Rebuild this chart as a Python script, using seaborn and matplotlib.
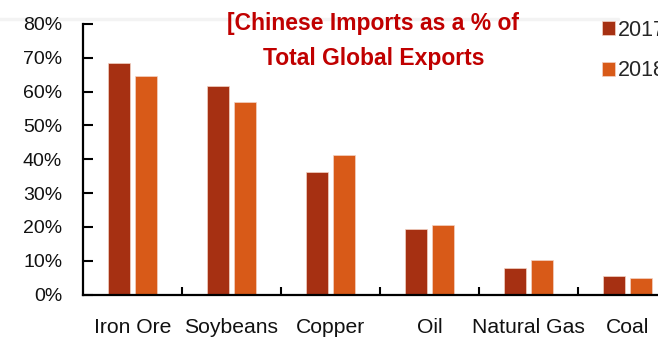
import matplotlib
matplotlib.use("Agg")
import matplotlib.pyplot as plt
from matplotlib.lines import Line2D
from matplotlib.ticker import FixedLocator, PercentFormatter
import pandas as pd
import seaborn as sns

# Chinese imports as a share of total global exports, by commodity (%)
categories = ["Iron Ore", "Soybeans", "Copper", "Oil", "Natural Gas", "Coal"]
share_2017 = [68.4, 61.6, 36.3, 19.4, 7.9, 5.4]
share_2018 = [64.5, 56.8, 41.4, 20.6, 10.3, 4.9]
years = ["2017", "2018"]
y_ticks = [0, 10, 20, 30, 40, 50, 60, 70, 80]

df = pd.DataFrame({
    "commodity": categories * 2,
    "year": [years[0]] * len(categories) + [years[1]] * len(categories),
    "share": share_2017 + share_2018,
})

sns.set_theme(style="white")
plt.rcParams["font.family"] = ["Liberation Sans", "DejaVu Sans"]

W, H = 658, 341
fig = plt.figure(figsize=(W / 100, H / 100), dpi=100)
fig.patch.set_facecolor("white")

# faint rule across the top of the slide
fig.add_artist(Line2D([0, 618 / W], [1 - 19 / H] * 2, color="#f3f3f3", lw=2.5,
                      zorder=0))

ax = fig.add_axes([83 / W, 46.5 / H, 594 / W, 270.5 / H])
ax.patch.set_alpha(0)
palette = {"2017": "#A63012", "2018": "#D85A18"}
sns.barplot(data=df, x="commodity", y="share", hue="year", palette=palette,
            saturation=1, width=0.56, gap=0.2, edgecolor="#f3d2c4",
            linewidth=0.5, ax=ax, legend=True)

ax.set_xlim(-0.5, len(categories) - 0.5)
ax.set_ylim(0, 80)
ax.set_xlabel("")
ax.set_ylabel("")
ax.yaxis.set_major_locator(FixedLocator(y_ticks))
ax.yaxis.set_major_formatter(PercentFormatter(decimals=0))

sns.despine(ax=ax)
for side in ("left", "bottom"):
    ax.spines[side].set_color("black")
    ax.spines[side].set_linewidth(1.6)

ax.tick_params(axis="y", which="major", left=True, direction="in", length=7,
               width=1.5, color="black", labelsize=14, pad=15,
               labelcolor="#111111")
ax.xaxis.set_minor_locator(FixedLocator([i + 0.5 for i in range(len(categories) - 1)]))
ax.tick_params(axis="x", which="major", bottom=True, length=0, labelsize=15.2,
               pad=17, labelcolor="#111111")
ax.tick_params(axis="x", which="minor", bottom=True, direction="in", length=6,
               width=1.5, color="black")

handles, labels = ax.get_legend_handles_labels()
ax.legend(handles, labels, loc="upper left",
          bbox_to_anchor=(601.7 / W, 1 - 20 / H), bbox_transform=fig.transFigure,
          frameon=False, fontsize=15.5,
          handlelength=0.62, handleheight=0.62, handletextpad=0.12,
          labelspacing=0.9, borderpad=0, borderaxespad=0)

title_kw = dict(ha="center", va="baseline", fontsize=16.5, fontweight="bold",
                color="#C00000")
fig.text(373 / W, 1 - 30 / H, "[Chinese Imports as a % of", **title_kw)
fig.text(374 / W, 1 - 65 / H, "Total Global Exports", **title_kw)

fig.savefig("out.png", dpi=100)
